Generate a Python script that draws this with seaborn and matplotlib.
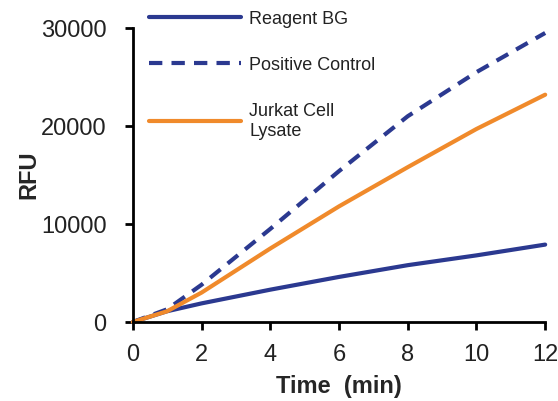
import numpy as np
import pandas as pd
import matplotlib
matplotlib.use("Agg")
import matplotlib.pyplot as plt
import seaborn as sns

time_min = [0, 1, 2, 4, 6, 8, 10, 12]
reagent_bg = [0, 1100, 1900, 3300, 4600, 5800, 6800, 7900]
positive_control = [0, 1300, 3800, 9500, 15400, 21000, 25500, 29500]
jurkat_lysate = [0, 1100, 3000, 7500, 11800, 15800, 19700, 23200]

series_names = ["Reagent BG", "Positive Control", "Jurkat Cell\nLysate"]
x_ticks = [0, 2, 4, 6, 8, 10, 12]
y_ticks = [0, 10000, 20000, 30000]

df = pd.concat([
    pd.DataFrame({"Time": time_min, "RFU": vals, "Series": name})
    for name, vals in zip(series_names, [reagent_bg, positive_control, jurkat_lysate])
])

sns.set_theme(style="ticks")
plt.rcParams['font.family'] = ['Liberation Sans', 'DejaVu Sans']

fig = plt.figure(figsize=(5.58, 4.01), dpi=100)
ax = fig.add_axes([0.238, 0.197, 0.739, 0.733])

navy = "#2B3990"
orange = "#F08A2B"
palette = {series_names[0]: navy, series_names[1]: navy, series_names[2]: orange}
dashes = {series_names[0]: "", series_names[1]: (3.2, 2.2), series_names[2]: ""}

sns.lineplot(data=df, x="Time", y="RFU", hue="Series", style="Series",
             palette=palette, dashes=dashes, linewidth=3, ax=ax,
             hue_order=series_names, style_order=series_names, clip_on=False)

ax.set_xlim(0, 12)
ax.set_ylim(0, 30000)
ax.set_xticks(x_ticks)
ax.set_yticks(y_ticks)
ax.tick_params(axis="both", labelsize=17, width=2, length=6, color="black", labelcolor="#222222")
ax.tick_params(axis="y", pad=13)
ax.tick_params(axis="x", pad=10)
for s in ["top", "right"]:
    ax.spines[s].set_visible(False)
for s in ["left", "bottom"]:
    ax.spines[s].set_linewidth(2)
    ax.spines[s].set_color("black")

ax.set_xlabel("Time  (min)", fontsize=17, fontweight="bold", labelpad=6)
ax.set_ylabel("RFU", fontsize=17, fontweight="bold", labelpad=0)

leg = ax.legend(loc="upper left", bbox_to_anchor=(0.0, 1.115), frameon=False,
                fontsize=13, handlelength=5.1, handletextpad=0.45, labelspacing=1.62)
for t in leg.get_texts():
    t.set_color("#222222")

fig.savefig("out.png", dpi=100)
